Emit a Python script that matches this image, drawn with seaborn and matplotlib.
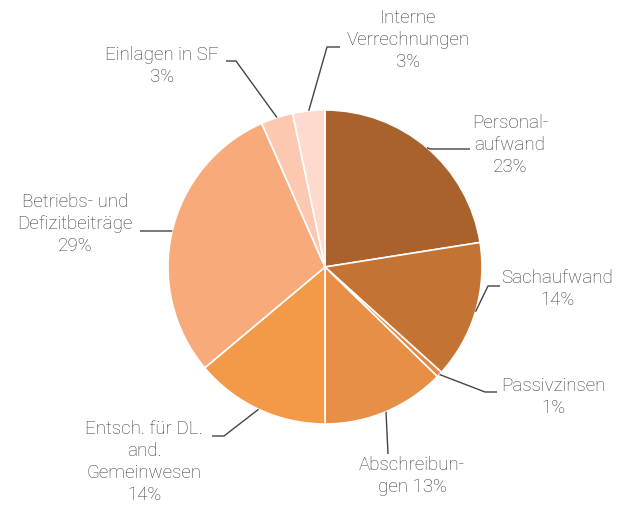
import matplotlib
matplotlib.use("Agg")
import matplotlib.pyplot as plt
import numpy as np
import seaborn as sns

# data (shares in %)
categories = ["Personal-\naufwand", "Sachaufwand", "Passivzinsen", "Abschreibun-\ngen",
              "Entsch. für DL.\nand.\nGemeinwesen", "Betriebs- und\nDefizitbeiträge",
              "Einlagen in SF", "Interne\nVerrechnungen"]
values = [22.5, 14.2, 0.6, 12.7, 13.9, 29.5, 3.3, 3.3]
pct_labels = ["23%", "14%", "1%", "13%", "14%", "29%", "3%", "3%"]
colors = ["#A9622B", "#C47332", "#E48A45", "#E88F47", "#F39A48",
          "#F9AA7B", "#FCC8AF", "#FDDACD"]

# layout in pixel coords (y downwards): leader elbow, leader end, text centre
elbows = [(430, 150), (488, 287), (485, 393), (388, 455), (224, 437), (172, 232), (236, 62), (327, 48)]
ends = [(470, 150), (500, 287), (497, 393), (388, 455), (212, 437), (140, 232), (226, 62), (340, 48)]
text_pos = [(510, 145), (557, 289), (553, 397), (412, 476), (144, 462), (75, 224), (162, 66), (408, 40)]

sns.set_theme(style="white")
plt.rcParams['font.family'] = ['Roboto', 'DejaVu Sans']

W, H = 621, 506
fig = plt.figure(figsize=(W / 100, H / 100), dpi=100)
ax = fig.add_axes([0, 0, 1, 1])

cx, cy, r = 325, 268, 157
wedges, _ = ax.pie(values, colors=colors, startangle=90, counterclock=False,
                   center=(cx, H - cy), radius=r,
                   wedgeprops=dict(edgecolor="white", linewidth=1.2))

for w, lab, pct, el, en, tp in zip(wedges, categories, pct_labels, elbows, ends, text_pos):
    ang = np.deg2rad((w.theta1 + w.theta2) / 2)
    ax0 = cx + r * np.cos(ang)
    ay0 = (H - cy) + r * np.sin(ang)
    xs = [ax0, el[0], en[0]]
    ys = [ay0, H - el[1], H - en[1]]
    ax.plot(xs, ys, color="#444444", lw=1.0, solid_capstyle="butt")
    txt = lab + ("\n" if not lab.endswith("bun-\ngen") else " ") + pct
    ax.text(tp[0], H - tp[1], txt, ha="center", va="center", fontsize=13.5,
            fontweight="light", color="#3a3a3a", linespacing=1.3)

ax.set_xlim(0, W)
ax.set_ylim(0, H)
ax.set_aspect("equal")
ax.axis("off")

fig.savefig("out.png", dpi=100)
